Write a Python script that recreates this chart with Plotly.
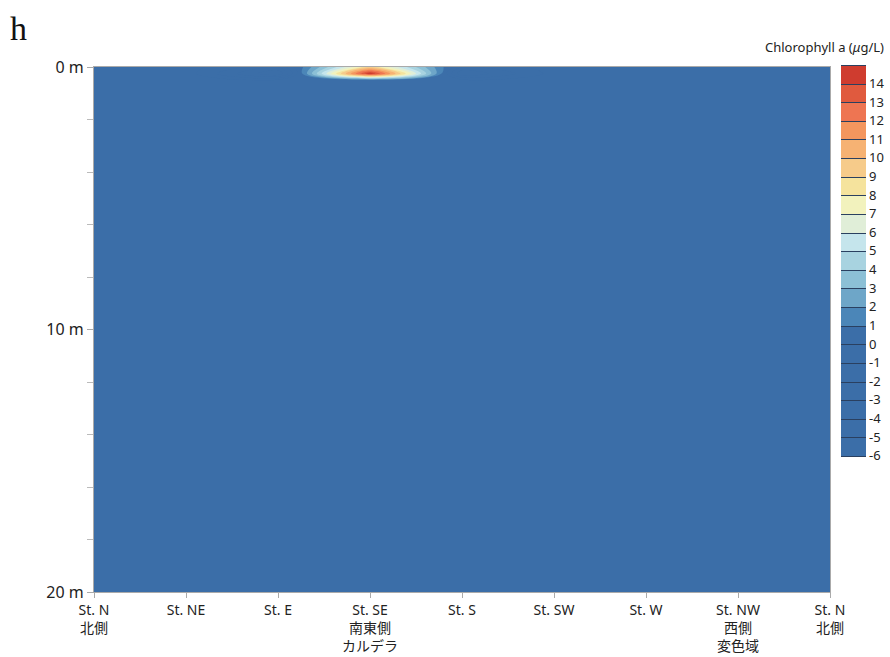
import plotly.graph_objects as go

stations = ["St. N<br>北側", "St. NE", "St. E", "St. SE<br>南東側<br>カルデラ", "St. S",
            "St. SW", "St. W", "St. NW<br>西側<br>変色域", "St. N<br>北側"]
station_pos = [0, 1, 2, 3, 4, 5, 6, 7, 8]
depths = [0, 0.25, 0.5, 1, 2, 4, 6, 8, 10, 12, 14, 16, 18, 20]

# chlorophyll a (µg/L), rows = depths, cols = stations
chl = [
    [0.4, 0.5, -2.0, 9.0, -1.0, 0.4, 0.5, 0.4, 0.4],
    [0.4, 0.5, -4.0, 15.0, -3.0, 0.4, 0.5, 0.4, 0.4],
    [0.5, 0.5, 0.3, 0.4, 0.3, 0.5, 0.5, 0.5, 0.5],
    [0.5, 0.6, 0.5, 0.6, 0.5, 0.6, 0.5, 0.5, 0.5],
    [0.6, 0.6, 0.6, 0.6, 0.6, 0.6, 0.6, 0.6, 0.6],
    [0.6, 0.5, 0.6, 0.6, 0.7, 0.6, 0.6, 0.6, 0.6],
    [0.5, 0.5, 0.5, 0.6, 0.6, 0.5, 0.6, 0.5, 0.5],
    [0.5, 0.5, 0.5, 0.5, 0.5, 0.5, 0.5, 0.5, 0.5],
    [0.4, 0.5, 0.5, 0.5, 0.5, 0.4, 0.5, 0.5, 0.4],
    [0.4, 0.4, 0.4, 0.5, 0.4, 0.4, 0.4, 0.4, 0.4],
    [0.4, 0.4, 0.4, 0.4, 0.4, 0.4, 0.4, 0.4, 0.4],
    [0.3, 0.4, 0.4, 0.4, 0.4, 0.3, 0.4, 0.4, 0.3],
    [0.3, 0.3, 0.3, 0.3, 0.3, 0.3, 0.3, 0.3, 0.3],
    [0.3, 0.3, 0.3, 0.3, 0.3, 0.3, 0.3, 0.3, 0.3],
]

band_colors = (["#3b6ea8"] * 7 + ["#4b86b8", "#6ea6c8", "#8cc0d6", "#a8d3e0", "#c5e5ec",
               "#e0eed8", "#f2f2bd", "#f5e39d", "#f6cb8a", "#f6b273", "#f4965e",
               "#ee7552", "#e05a3e", "#cf3c2f"])
zmin, zmax = -6, 15
n = len(band_colors)
colorscale = []
for i, c in enumerate(band_colors):
    colorscale.append([i / n, c])
    colorscale.append([(i + 1) / n, c])

font_family = "Noto Sans, Noto Sans CJK JP, sans-serif"
W, H = 890, 657
PLOT_H = 657 - 67 - 65

fig = go.Figure()
fig.add_trace(go.Contour(
    x=station_pos, y=depths, z=chl,
    zmin=zmin, zmax=zmax, colorscale=colorscale,
    contours=dict(start=-6, end=15, size=1, coloring="fill", showlines=False),
    line=dict(width=0),
    showscale=False,
))
# colorbar-only trace (transparent) so the bar shows band separator lines
fig.add_trace(go.Contour(
    x=station_pos, y=depths, z=chl,
    zmin=zmin, zmax=zmax, colorscale=colorscale, opacity=0,
    contours=dict(start=-6, end=15, size=1, coloring="fill", showlines=True),
    line=dict(width=1, color="#2a4060"),
    hoverinfo="skip",
    colorbar=dict(
        xref="container", x=841 / W, xanchor="left", xpad=0,
        yref="container", y=1 - 81 / H, yanchor="top", ypad=0,
        len=391 / PLOT_H, lenmode="fraction", thickness=25,
        outlinewidth=0,
        tickvals=list(range(-6, 15)), ticktext=[str(v) for v in range(-6, 15)],
        ticks="",
        tickfont=dict(size=13, color="#222", family=font_family),
    ),
))

fig.add_annotation(text="Chlorophyll a (<i>μ</i>g/L)", xref="paper", yref="paper",
                   x=(886 - 94) / 736, y=(592 - 58) / 525, xanchor="right", yanchor="bottom",
                   showarrow=False, font=dict(size=13, color="#222", family=font_family))
fig.add_annotation(text="h", xref="paper", yref="paper",
                   x=-86 / 736, y=(592 - 8) / 525, xanchor="left", yanchor="top",
                   showarrow=False, font=dict(size=34, color="#111", family="Liberation Serif"))

fig.update_xaxes(range=[0, 8], tickvals=station_pos, ticktext=stations, automargin=False,
                 ticks="outside", ticklen=5, tickcolor="#aaa",
                 showline=True, linecolor="#aaa", linewidth=1, mirror=True,
                 showgrid=False, zeroline=False,
                 tickfont=dict(size=14, color="#222", family=font_family))
fig.update_yaxes(range=[20, 0], tickvals=[0, 10, 20], ticktext=["0 m", "10 m", "20 m"],
                 automargin=False,
                 ticks="outside", ticklen=6, tickcolor="#aaa",
                 minor=dict(tickvals=[2, 4, 6, 8, 12, 14, 16, 18], ticks="outside",
                            ticklen=6, tickcolor="#bbb"),
                 showline=True, linecolor="#aaa", linewidth=1, mirror=True,
                 showgrid=False, zeroline=False,
                 tickfont=dict(size=16, color="#222", family=font_family))

fig.update_layout(width=W, height=H, margin=dict(l=94, r=60, t=67, b=65, autoexpand=False),
                  paper_bgcolor="white", plot_bgcolor="white", showlegend=False,
                  font=dict(family=font_family))
fig.write_html("out.html", config={"displayModeBar": False},
               post_script="document.body.style.margin='0px';document.body.style.overflow='hidden';")
